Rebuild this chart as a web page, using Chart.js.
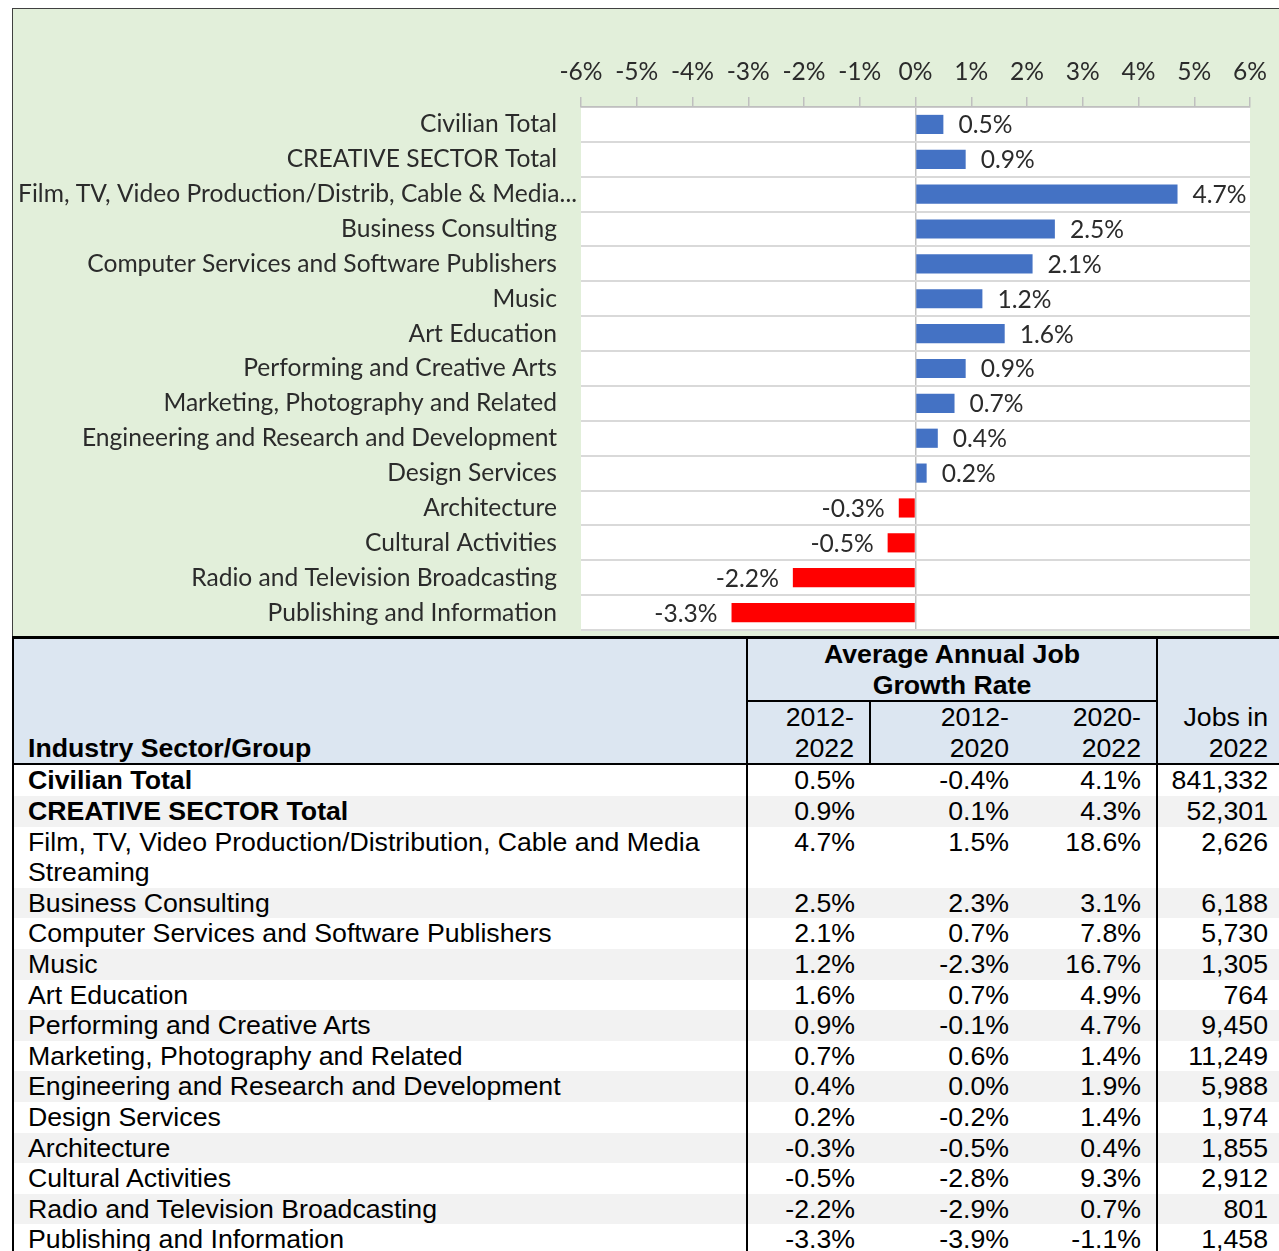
<!DOCTYPE html>
<html>
<head>
<meta charset="utf-8">
<script src="https://cdn.jsdelivr.net/npm/chart.js@4/dist/chart.umd.min.js"></script>
<style>
  html, body { margin:0; padding:0; background:#ffffff; width:1279px; height:1251px; overflow:hidden; }
  #chartBox { position:absolute; left:12px; top:8px; width:1280px; height:628px; background:#E2EFDA;
              border-top:1px solid #404040; border-left:1px solid #404040; box-sizing:border-box; }
  #chart { position:absolute; left:0px; top:0px; }
  table { position:absolute; left:12px; top:636px; width:1270px; border-collapse:collapse; table-layout:fixed;
          font-family:'Liberation Sans', Arial, sans-serif; font-size:26.7px; color:#000; }
  th, td { padding:0; line-height:30.6px; white-space:normal; }
  thead th { background:#DCE6F1; font-weight:normal; }
  .bold { font-weight:bold !important; }
  .nm { text-align:left; padding-left:14px; padding-right:12px; }
  .num { text-align:right; padding-right:15px; }
  tbody tr:nth-child(even) td { background:#F2F2F2; }
</style>
</head>
<body>
<div id="chartBox"><canvas id="chart" width="1266" height="627"></canvas></div>
<table id="tbl">
  <colgroup>
    <col style="width:734px"><col style="width:123px"><col style="width:154px"><col style="width:133px"><col style="width:126px">
  </colgroup>
  <thead>
    <tr style="height:62px">
      <th rowspan="2" class="nm bold" style="vertical-align:bottom;border-left:2px solid #000;border-top:3px solid #000;border-right:2px solid #000;border-bottom:2px solid #000;" id="hName"></th>
      <th colspan="3" class="bold" style="text-align:center;vertical-align:middle;border-top:3px solid #000;border-right:2px solid #000;border-bottom:2px solid #000;" id="hGroup"></th>
      <th rowspan="2" class="num" style="vertical-align:bottom;border-top:3px solid #000;border-bottom:2px solid #000;" id="hJobs"></th>
    </tr>
    <tr style="height:62px">
      <th class="num" style="vertical-align:bottom;border-right:2px solid #000;border-bottom:2px solid #000;" id="hP1"></th>
      <th class="num" style="vertical-align:bottom;border-bottom:2px solid #000;" id="hP2"></th>
      <th class="num" style="vertical-align:bottom;border-right:2px solid #000;border-bottom:2px solid #000;" id="hP3"></th>
    </tr>
  </thead>
  <tbody id="tbody"></tbody>
</table>
<script>
// ---- Data ----
const chartLabels = [
  "Civilian Total",
  "CREATIVE SECTOR Total",
  "Film, TV, Video Production/Distrib, Cable & Media...",
  "Business Consulting",
  "Computer Services and Software Publishers",
  "Music",
  "Art Education",
  "Performing and Creative Arts",
  "Marketing, Photography and Related",
  "Engineering and Research and Development",
  "Design Services",
  "Architecture",
  "Cultural Activities",
  "Radio and Television Broadcasting",
  "Publishing and Information"
];
const tableNames = [
  "Civilian Total",
  "CREATIVE SECTOR Total",
  "Film, TV, Video Production/Distribution, Cable and Media Streaming",
  "Business Consulting",
  "Computer Services and Software Publishers",
  "Music",
  "Art Education",
  "Performing and Creative Arts",
  "Marketing, Photography and Related",
  "Engineering and Research and Development",
  "Design Services",
  "Architecture",
  "Cultural Activities",
  "Radio and Television Broadcasting",
  "Publishing and Information"
];
const boldRows = ["Civilian Total", "CREATIVE SECTOR Total"];
const growth2012_2022 = [0.5, 0.9, 4.7, 2.5, 2.1, 1.2, 1.6, 0.9, 0.7, 0.4, 0.2, -0.3, -0.5, -2.2, -3.3];
const growth2012_2020 = [-0.4, 0.1, 1.5, 2.3, 0.7, -2.3, 0.7, -0.1, 0.6, 0.0, -0.2, -0.5, -2.8, -2.9, -3.9];
const growth2020_2022 = [4.1, 4.3, 18.6, 3.1, 7.8, 16.7, 4.9, 4.7, 1.4, 1.9, 1.4, 0.4, 9.3, 0.7, -1.1];
const jobs2022 = [841332, 52301, 2626, 6188, 5730, 1305, 764, 9450, 11249, 5988, 1974, 1855, 2912, 801, 1458];
const xTickMin = -6, xTickMax = 6, xTickStep = 1;
const headerName = "Industry Sector/Group";
const headerGroup = ["Average Annual Job", "Growth Rate"];
const headerPeriods = [["2012-", "2022"], ["2012-", "2020"], ["2020-", "2022"]];
const headerJobs = ["Jobs in", "2022"];

// ---- Table ----
document.getElementById('hName').textContent = headerName;
document.getElementById('hGroup').innerHTML = headerGroup.join('<br>');
document.getElementById('hJobs').innerHTML = headerJobs.join('<br>');
['hP1','hP2','hP3'].forEach((id,i) => document.getElementById(id).innerHTML = headerPeriods[i].join('<br>'));
const fmtPct = v => v.toFixed(1) + '%';
const tbody = document.getElementById('tbody');
tableNames.forEach((n, i) => {
  const tr = document.createElement('tr');
  const b = boldRows.includes(n) ? ' bold' : '';
  tr.innerHTML =
    `<td class="nm${b}" style="vertical-align:top;border-left:2px solid #000;border-right:2px solid #000;">${n}</td>` +
    `<td class="num" style="vertical-align:top">${fmtPct(growth2012_2022[i])}</td>` +
    `<td class="num" style="vertical-align:top">${fmtPct(growth2012_2020[i])}</td>` +
    `<td class="num" style="vertical-align:top;border-right:2px solid #000;">${fmtPct(growth2020_2022[i])}</td>` +
    `<td class="num" style="vertical-align:top">${jobs2022[i].toLocaleString('en-US')}</td>`;
  tbody.appendChild(tr);
});

// ---- Chart ----
const FONT = "Lato, 'Open Sans', sans-serif";
const FSIZE = 24.6;
const TXT = '#2b2b2b';
const plotBg = {
  id: 'plotBg',
  beforeDraw(chart) {
    const {ctx, chartArea:a} = chart;
    ctx.save(); ctx.fillStyle = '#ffffff';
    ctx.fillRect(a.left, a.top, a.right - a.left, a.bottom - a.top);
    ctx.restore();
  }
};
// The truncated long category label sits closer to the plot, as in the source.
const longLabelShift = {
  id: 'longLabelShift',
  beforeDraw(chart) {
    const s = chart.scales.y;
    const items = s.getLabelItems(chart.chartArea);
    items.forEach(it => {
      if (!it._shifted && typeof it.label === 'string' && it.label.endsWith('...')) {
        it.options.translation[0] += 20;
        it._shifted = true;
      }
    });
  }
};
const barLabels = {
  id: 'barLabels',
  afterDatasetsDraw(chart) {
    const ctx = chart.ctx;
    const meta = chart.getDatasetMeta(0);
    const data = chart.data.datasets[0].data;
    ctx.save();
    ctx.font = FSIZE + "px " + FONT;
    ctx.fillStyle = TXT;
    ctx.textBaseline = 'middle';
    meta.data.forEach((el, i) => {
      const v = data[i];
      const t = v.toFixed(1) + '%';
      if (v >= 0) { ctx.textAlign = 'left'; ctx.fillText(t, el.x + 15, el.y + 1); }
      else { ctx.textAlign = 'right'; ctx.fillText(t, el.x - 14, el.y + 1); }
    });
    ctx.restore();
  }
};
new Chart(document.getElementById('chart'), {
  type: 'bar',
  data: {
    labels: chartLabels,
    datasets: [{
      data: growth2012_2022,
      backgroundColor: growth2012_2022.map(v => v >= 0 ? '#4472C4' : '#FF0000'),
      borderWidth: 0,
      barPercentage: 0.55,
      categoryPercentage: 1.0
    }]
  },
  options: {
    indexAxis: 'y',
    responsive: false,
    animation: false,
    layout: { padding: { left: 0, right: 29, top: 0, bottom: 6 } },
    plugins: { legend: { display: false }, tooltip: { enabled: false } },
    scales: {
      x: {
        position: 'top',
        min: xTickMin, max: xTickMax,
        ticks: { stepSize: xTickStep, callback: v => v + '%', font: { family: FONT, size: FSIZE }, color: TXT, padding: 10, maxRotation: 0 },
        grid: { drawOnChartArea: true, color: c => (c.tick && c.tick.value === 0) ? '#bfbfbf' : 'rgba(0,0,0,0)', tickColor: '#bfbfbf', tickLength: 10, lineWidth: 1.5 },
        border: { display: true, color: '#bfbfbf', width: 1.5 },
        afterFit: s => { s.height = 98; s.paddingLeft = 0; s.paddingRight = 0; }
      },
      y: {
        ticks: { font: { family: FONT, size: FSIZE }, color: TXT, padding: 24, autoSkip: false },
        grid: { color: '#d9d9d9', lineWidth: 2, drawTicks: false, offset: true },
        border: { display: false },
        afterFit: s => { s.width = 568; s.paddingTop = 0; s.paddingBottom = 0; }
      }
    }
  },
  plugins: [plotBg, longLabelShift, barLabels]
});
</script>
</body>
</html>
